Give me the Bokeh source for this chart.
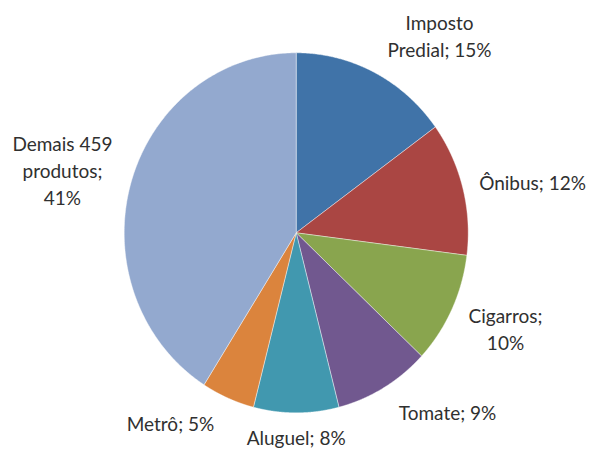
import numpy as np
from bokeh.plotting import figure
from bokeh.models import ColumnDataSource, Range1d
from bokeh.core.properties import value
from bokeh.embed import file_html
from bokeh.resources import INLINE

# ---- data ----
categories = ["Imposto Predial", "Ônibus", "Cigarros", "Tomate", "Aluguel", "Metrô", "Demais 459 produtos"]
shares = [15, 12, 10, 9, 8, 5, 41]
labels = ["Imposto\nPredial; 15%", "Ônibus; 12%", "Cigarros;\n10%", "Tomate; 9%",
          "Aluguel; 8%", "Metrô; 5%", "Demais 459\nprodutos;\n41%"]

# ---- styles / layout ----
colors = ["#4073A8", "#AA4643", "#89A54E", "#71588F", "#4198AF", "#DB843D", "#93A9CF"]
# label anchor positions in pie units (x: 1 = radius horizontally, y: 1 = radius vertically)
label_x = [0.833, 1.374, 1.217, 0.880, 0.0, -0.731, -1.359]
label_y = [1.093, 0.279, -0.535, -0.998, -1.138, -1.059, 0.346]

W, H = 589, 449
cx_px, cy_px = 295.7, 232.3   # pie centre in canvas pixels
rx_px, ry_px = 172.0, 180.0   # pie radii in pixels

p = figure(width=W, height=H, output_backend="svg", toolbar_location=None,
           x_range=Range1d(-cx_px / rx_px, (W - cx_px) / rx_px),
           y_range=Range1d((cy_px - H) / ry_px, cy_px / ry_px),
           min_border=0)
p.axis.visible = False
p.grid.visible = False
p.outline_line_color = None
p.background_fill_color = "white"
p.border_fill_color = "white"

total = float(sum(shares))
fr = np.cumsum([0] + shares) / total
xs, ys = [], []
for i in range(len(shares)):
    a0 = np.pi / 2 - 2 * np.pi * fr[i]
    a1 = np.pi / 2 - 2 * np.pi * fr[i + 1]
    t = np.linspace(a0, a1, 200)
    xs.append([0.0] + list(np.cos(t)))
    ys.append([0.0] + list(np.sin(t)))

src = ColumnDataSource(dict(xs=xs, ys=ys, color=colors, cat=categories))
p.patches("xs", "ys", source=src, fill_color="color", line_color="white",
          line_width=0.6, line_alpha=0.7)

lsrc = ColumnDataSource(dict(x=label_x, y=label_y, text=labels))
p.text("x", "y", text="text", source=lsrc, text_font=value("Lato"),
       text_font_size="19px", text_color="#303030", text_align="center",
       text_baseline="middle", text_line_height=1.18)

open("out.html", "w").write(file_html(p, INLINE))
